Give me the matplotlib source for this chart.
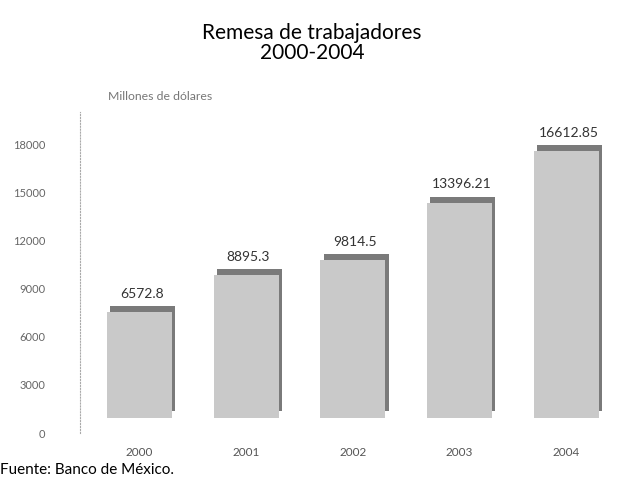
import matplotlib.pyplot as plt
import numpy as np

plt.rcParams['font.family'] = ['Lato', 'DejaVu Sans']

# Remesas (millones de dólares), Banco de México
years = ['2000', '2001', '2002', '2003', '2004']
values = [6572.8, 8895.3, 9814.5, 13396.21, 16612.85]
value_labels = ['6572.8', '8895.3', '9814.5', '13396.21', '16612.85']
yticks = [0, 3000, 6000, 9000, 12000, 15000, 18000]

x = np.arange(len(years))
w = 0.61
floor = 950          # 3d floor lifts the bars a bit off the zero line
dx, dy = 0.06, 400   # fake 3d depth

fig = plt.figure(figsize=(6.24, 4.83), dpi=100)
ax = fig.add_axes([0.128, 0.1035, 0.865, 0.664])

# shadow (side + top) then front face
ax.bar(x + dx / 2, values, width=w, bottom=floor + dy, color='#7a7a7a', zorder=2)
ax.bar(x, values, width=w, bottom=floor, color='#c9c9c9', zorder=3)

for xi, v, lab in zip(x, values, value_labels):
    ax.text(xi + 0.02, v + floor + dy + 380, lab, ha='center', va='bottom',
            fontsize=10, color='#333333')

ax.set_xlim(-0.56, 4.5)
ax.set_ylim(0, 20000)
ax.set_xticks(x)
ax.set_xticklabels(years, fontsize=8.5, color='#555555')
ax.set_yticks(yticks)
ax.set_yticklabels([str(t) for t in yticks], fontsize=8, color='#666666')
ax.tick_params(length=0)
ax.tick_params(axis='x', pad=10)
ax.tick_params(axis='y', pad=25)

for s in ['top', 'right', 'bottom']:
    ax.spines[s].set_visible(False)
ax.spines['left'].set_color('#aaaaaa')
ax.spines['left'].set_linestyle(':')

fig.text(0.173, 0.793, 'Millones de dólares', fontsize=8.8, color='#777777')
fig.text(0.5, 0.952, 'Remesa de trabajadores\n2000-2004', ha='center', va='top',
         fontsize=15, linespacing=0.97)
fig.text(0.0, 0.012, 'Fuente: Banco de México.', fontsize=11, va='bottom')

fig.savefig('out.png', dpi=100)
